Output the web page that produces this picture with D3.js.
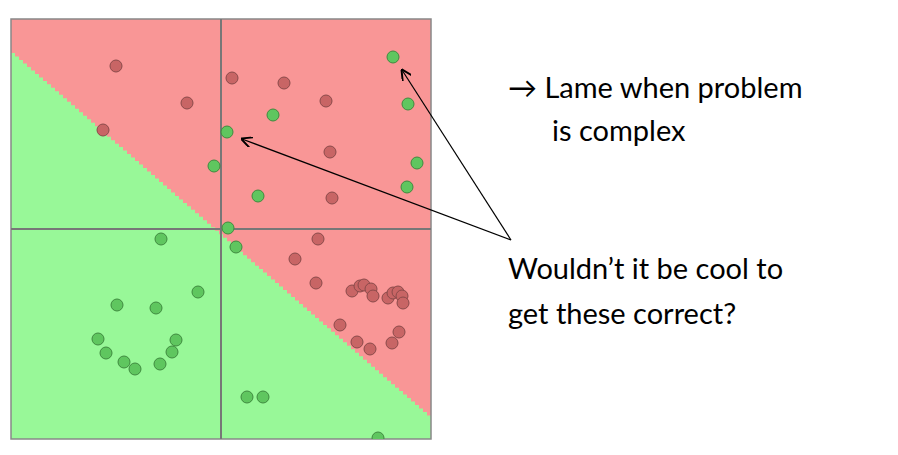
<!DOCTYPE html>
<html><head><meta charset="utf-8">
<script src="https://cdn.jsdelivr.net/npm/d3@7"></script>
<style>body{margin:0;background:#fff}</style>
</head><body>
<div id="canvas"></div>
<script>
// points in data units (0..420 both axes)
var redX = [105,221,273,176,315,92,319,321,307,284,305,341,349,353,360,362,377,382,387,391,392,329,388,346,359,381];
var redY = [373,361,356,336,338,309,287,241,200,180,156,148,153,154,150,143,141,146,147,143,136,114,107,97,90,96];
var greenX = [382,397,262,216,203,406,396,247,217,225,150,187,106,145,87,165,95,161,113,124,149,236,252,367];
var greenY = [382,335,324,307,273,276,252,243,211,192,200,147,134,131,100,99,86,87,77,70,75,42,42,1];
var boundary = [386,20]; // y at x=0 and x=420
var textLines = [
  {t:'\u2192 Lame when problem', x:508, y:98},
  {t:'is complex', x:552, y:141},
  {t:'Wouldn\u2019t it be cool to', x:508, y:279},
  {t:'get these correct?', x:508, y:324}
];

var svg = d3.select('#canvas').append('svg').attr('width',898).attr('height',455);
var x = d3.scaleLinear().domain([0,420]).range([11,431]);
var y = d3.scaleLinear().domain([0,420]).range([439,19]);

svg.append('rect').attr('x',x(0)).attr('y',y(420)).attr('width',x(420)-x(0)).attr('height',y(0)-y(420)).attr('fill','#98f898');

// staircase decision boundary
var steps = 105, pts = [[x(0),y(420)]];
for (var i=0;i<steps;i++){
  var x0 = i*420/steps, x1 = (i+1)*420/steps;
  var by = boundary[0] + (boundary[1]-boundary[0])*(x0/420);
  pts.push([x(x0),y(by)],[x(x1),y(by)]);
}
pts.push([x(420),y(420)]);
svg.append('polygon').attr('points',pts.map(function(p){return p.join(',')}).join(' ')).attr('fill','#f99696');

svg.append('rect').attr('x',x(0)).attr('y',y(420)).attr('width',x(420)-x(0)).attr('height',y(0)-y(420))
  .attr('fill','none').attr('stroke','#888').attr('stroke-width',1.5);
svg.append('line').attr('x1',x(210)).attr('x2',x(210)).attr('y1',y(0)).attr('y2',y(420)).attr('stroke','#777').attr('stroke-width',2);
svg.append('line').attr('x1',x(0)).attr('x2',x(420)).attr('y1',y(210)).attr('y2',y(210)).attr('stroke','#777').attr('stroke-width',2);

var clip = svg.append('clipPath').attr('id','c').append('rect').attr('x',x(0)).attr('y',y(420)).attr('width',420).attr('height',420);
var g = svg.append('g').attr('clip-path','url(#c)');
g.selectAll('.r').data(redX).enter().append('circle').attr('class','r')
  .attr('cx',function(d){return x(d)}).attr('cy',function(d,i){return y(redY[i])}).attr('r',6)
  .attr('fill','#c86565').attr('stroke','#8a4a4a').attr('stroke-width',1);
g.selectAll('.g').data(greenX).enter().append('circle').attr('class','g')
  .attr('cx',function(d){return x(d)}).attr('cy',function(d,i){return y(greenY[i])}).attr('r',6)
  .attr('fill','#5fc65f').attr('stroke','#3f8a3f').attr('stroke-width',1);

// arrows
svg.append('defs').append('marker').attr('id','ah').attr('viewBox','0 0 10 10').attr('refX',9).attr('refY',5)
  .attr('markerWidth',9).attr('markerHeight',9).attr('orient','auto')
  .append('path').attr('d','M0,0 L10,5 L0,10').attr('fill','none').attr('stroke','#000').attr('stroke-width',1.8);
[[242,139],[402,70]].forEach(function(p){
  svg.append('line').attr('x1',511).attr('y1',240).attr('x2',p[0]).attr('y2',p[1])
    .attr('stroke','#000').attr('stroke-width',1.2).attr('marker-end','url(#ah)');
});

svg.selectAll('.t').data(textLines).enter().append('text').attr('class','t')
  .attr('x',function(d){return d.x}).attr('y',function(d){return d.y})
  .attr('font-family','Lato, sans-serif').attr('font-size',29).attr('fill','#000')
  .text(function(d){return d.t});
</script>
</body></html>
